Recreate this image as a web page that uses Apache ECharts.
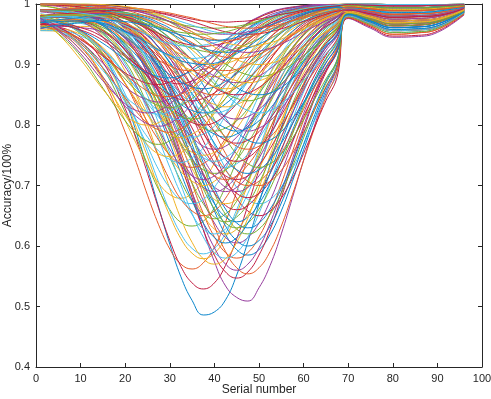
<!DOCTYPE html>
<html>
<head>
<meta charset="utf-8">
<script src="https://cdn.jsdelivr.net/npm/echarts@6/dist/echarts.min.js"></script>
<style>
  html, body { margin: 0; padding: 0; background: #fff; }
  #chart { width: 491px; height: 399px; }
</style>
</head>
<body>
<div id="chart"></div>
<script>
var serialNo = [1, 5, 10, 15, 20, 22.5, 25, 27.5, 30, 32.5, 35, 37.5, 40, 42.5, 45, 47.5, 50,
                52.5, 55, 57.5, 60, 62.5, 65, 67.5, 70, 75, 80, 85, 90, 96];

// deepest dips
var deepCurves = [
  [0.976,0.973,0.957,0.917,0.84,0.788,0.728,0.664,0.603,0.549,0.51,0.486,0.491,0.511,0.552,0.607,0.67,0.735,0.796,0.849,0.894,0.928,0.953,0.971,0.993,0.988,0.983,0.984,0.986,0.995],
  [0.962,0.955,0.929,0.876,0.788,0.738,0.684,0.635,0.595,0.57,0.562,0.572,0.598,0.64,0.69,0.746,0.799,0.849,0.891,0.925,0.95,0.968,0.981,0.989,0.998,0.996,0.994,0.994,0.995,0.998],
  [0.956,0.955,0.942,0.908,0.841,0.796,0.747,0.696,0.65,0.612,0.588,0.579,0.588,0.614,0.654,0.702,0.755,0.807,0.855,0.895,0.928,0.952,0.97,0.981,0.988,0.98,0.972,0.973,0.976,0.991],
  [0.99,0.99,0.988,0.979,0.953,0.929,0.898,0.856,0.806,0.748,0.687,0.627,0.574,0.534,0.515,0.509,0.531,0.568,0.62,0.68,0.742,0.8,0.852,0.895,0.976,0.96,0.945,0.946,0.953,0.982],
  [0.963,0.958,0.937,0.894,0.821,0.779,0.735,0.693,0.66,0.639,0.633,0.641,0.663,0.698,0.741,0.787,0.832,0.873,0.909,0.937,0.958,0.974,0.984,0.99,1,1,0.999,0.999,0.999,1],
  [0.976,0.972,0.956,0.919,0.851,0.806,0.756,0.705,0.658,0.62,0.596,0.587,0.596,0.621,0.66,0.708,0.76,0.811,0.858,0.897,0.929,0.953,0.97,0.982,0.995,0.992,0.989,0.989,0.991,0.996],
  [0.965,0.962,0.945,0.904,0.827,0.776,0.72,0.662,0.609,0.566,0.539,0.529,0.539,0.568,0.612,0.667,0.726,0.784,0.838,0.883,0.919,0.946,0.966,0.979,0.99,0.984,0.978,0.979,0.981,0.993],
  [0.98,0.982,0.983,0.979,0.963,0.948,0.925,0.894,0.855,0.809,0.759,0.707,0.658,0.619,0.594,0.585,0.594,0.619,0.658,0.707,0.759,0.81,0.857,0.897,0.98,0.968,0.956,0.957,0.962,0.986],
  [0.99,0.989,0.987,0.977,0.948,0.925,0.893,0.853,0.807,0.755,0.703,0.654,0.615,0.589,0.58,0.589,0.615,0.654,0.703,0.756,0.808,0.855,0.895,0.928,0.985,0.976,0.967,0.968,0.972,0.989],
  [0.999,0.997,0.99,0.973,0.935,0.905,0.869,0.826,0.779,0.731,0.687,0.652,0.628,0.62,0.628,0.652,0.687,0.731,0.779,0.826,0.869,0.905,0.935,0.957,0.989,0.982,0.975,0.976,0.979,0.992],
  [0.97,0.972,0.973,0.968,0.944,0.924,0.896,0.859,0.816,0.769,0.721,0.675,0.638,0.614,0.605,0.614,0.638,0.675,0.721,0.771,0.819,0.864,0.902,0.932,0.986,0.978,0.969,0.97,0.974,0.99],
  [0.978,0.978,0.97,0.95,0.905,0.873,0.833,0.791,0.747,0.707,0.674,0.653,0.645,0.653,0.674,0.708,0.749,0.794,0.837,0.878,0.912,0.939,0.96,0.974,0.994,0.99,0.986,0.986,0.988,0.995],
  [1,1,0.999,0.995,0.985,0.976,0.962,0.943,0.918,0.886,0.849,0.808,0.767,0.728,0.697,0.677,0.67,0.677,0.697,0.728,0.767,0.808,0.849,0.886,0.979,0.966,0.953,0.954,0.96,0.985],
  [0.99,0.989,0.987,0.975,0.944,0.919,0.885,0.842,0.792,0.736,0.68,0.627,0.585,0.557,0.547,0.557,0.585,0.627,0.68,0.737,0.793,0.844,0.887,0.922,0.983,0.972,0.961,0.962,0.967,0.987],
  [0.99,0.99,0.99,0.985,0.967,0.951,0.929,0.898,0.861,0.816,0.768,0.717,0.671,0.633,0.609,0.6,0.609,0.633,0.671,0.717,0.768,0.817,0.862,0.9,0.981,0.97,0.958,0.959,0.964,0.986],
  [0.99,0.99,0.989,0.983,0.964,0.946,0.921,0.887,0.845,0.795,0.741,0.685,0.633,0.591,0.564,0.554,0.564,0.591,0.633,0.685,0.741,0.796,0.846,0.889,0.978,0.964,0.95,0.952,0.958,0.984],
  [0.97,0.96,0.931,0.88,0.807,0.769,0.733,0.704,0.685,0.679,0.687,0.707,0.737,0.774,0.814,0.853,0.89,0.92,0.945,0.964,0.977,0.986,0.992,0.996,0.997,0.994,0.991,0.991,0.993,0.997]
];

// the crowded block around 0.55 - 0.7, x 40 - 50
var crowdCurves = [
  [0.98,0.981,0.98,0.971,0.943,0.919,0.886,0.845,0.796,0.743,0.689,0.638,0.597,0.57,0.56,0.57,0.597,0.638,0.689,0.744,0.798,0.848,0.89,0.924,0.984,0.974,0.964,0.965,0.97,0.988],
  [0.99,0.99,0.99,0.985,0.969,0.954,0.933,0.903,0.868,0.825,0.779,0.731,0.687,0.652,0.628,0.62,0.628,0.652,0.687,0.731,0.779,0.826,0.869,0.905,0.98,0.968,0.956,0.957,0.962,0.986],
  [0.969,0.971,0.968,0.955,0.917,0.887,0.849,0.803,0.753,0.701,0.654,0.615,0.589,0.58,0.589,0.615,0.654,0.703,0.756,0.808,0.855,0.895,0.928,0.952,0.993,0.988,0.983,0.984,0.986,0.995],
  [0.98,0.983,0.985,0.985,0.978,0.97,0.956,0.937,0.911,0.878,0.84,0.797,0.753,0.712,0.679,0.658,0.65,0.658,0.679,0.712,0.753,0.797,0.84,0.879,0.977,0.962,0.947,0.948,0.955,0.983],
  [1,0.999,0.995,0.984,0.959,0.938,0.91,0.876,0.835,0.791,0.745,0.704,0.67,0.648,0.64,0.648,0.67,0.704,0.745,0.791,0.835,0.876,0.91,0.938,0.99,0.984,0.978,0.979,0.981,0.993],
  [0.97,0.973,0.977,0.977,0.967,0.958,0.942,0.92,0.893,0.861,0.826,0.788,0.753,0.725,0.707,0.7,0.707,0.725,0.753,0.788,0.826,0.863,0.896,0.925,0.985,0.976,0.967,0.968,0.972,0.989],
  [0.988,0.985,0.974,0.946,0.889,0.849,0.801,0.748,0.695,0.645,0.606,0.579,0.57,0.579,0.606,0.646,0.696,0.75,0.803,0.852,0.893,0.926,0.951,0.969,0.995,0.992,0.989,0.989,0.991,0.996],
  [0.989,0.989,0.985,0.973,0.943,0.92,0.891,0.856,0.819,0.78,0.745,0.716,0.697,0.69,0.697,0.716,0.745,0.781,0.82,0.858,0.893,0.923,0.947,0.965,0.988,0.98,0.972,0.973,0.976,0.991]
];

// dips down to about 0.6 - 0.7
var lowCurves = [
  [0.979,0.98,0.977,0.964,0.931,0.905,0.872,0.832,0.789,0.744,0.704,0.67,0.648,0.64,0.648,0.67,0.704,0.745,0.791,0.835,0.876,0.91,0.938,0.959,0.991,0.986,0.98,0.981,0.983,0.994],
  [0.988,0.986,0.976,0.952,0.901,0.866,0.824,0.777,0.73,0.686,0.652,0.628,0.62,0.628,0.652,0.687,0.731,0.779,0.826,0.869,0.905,0.935,0.957,0.973,0.995,0.992,0.989,0.989,0.991,0.996],
  [1,0.999,0.995,0.985,0.961,0.942,0.915,0.883,0.844,0.802,0.76,0.72,0.688,0.667,0.66,0.667,0.688,0.72,0.76,0.802,0.844,0.883,0.915,0.942,0.984,0.974,0.964,0.965,0.97,0.988],
  [0.98,0.982,0.983,0.98,0.966,0.953,0.932,0.905,0.87,0.83,0.785,0.738,0.695,0.661,0.638,0.63,0.638,0.661,0.695,0.738,0.785,0.831,0.872,0.908,0.983,0.972,0.961,0.962,0.967,0.987],
  [0.966,0.965,0.954,0.925,0.868,0.832,0.791,0.748,0.709,0.677,0.658,0.65,0.658,0.679,0.712,0.753,0.797,0.84,0.879,0.913,0.94,0.96,0.975,0.985,0.998,0.996,0.994,0.994,0.995,0.998],
  [0.959,0.963,0.963,0.956,0.929,0.907,0.878,0.843,0.804,0.765,0.728,0.697,0.677,0.67,0.677,0.697,0.728,0.767,0.808,0.849,0.886,0.918,0.943,0.962,0.99,0.984,0.978,0.979,0.981,0.993],
  [0.998,0.996,0.986,0.965,0.923,0.893,0.858,0.82,0.781,0.745,0.716,0.697,0.69,0.697,0.716,0.745,0.781,0.82,0.858,0.893,0.923,0.947,0.965,0.978,0.994,0.99,0.986,0.986,0.988,0.995],
  [0.98,0.982,0.981,0.974,0.951,0.931,0.904,0.869,0.829,0.784,0.738,0.695,0.661,0.638,0.63,0.638,0.661,0.695,0.738,0.785,0.831,0.872,0.908,0.936,0.988,0.98,0.972,0.973,0.976,0.991],
  [0.984,0.976,0.955,0.913,0.845,0.805,0.765,0.726,0.696,0.676,0.67,0.677,0.697,0.728,0.767,0.808,0.849,0.886,0.918,0.943,0.962,0.976,0.985,0.991,0.999,0.998,0.997,0.997,0.998,0.999],
  [0.97,0.973,0.976,0.977,0.966,0.956,0.939,0.915,0.887,0.851,0.814,0.774,0.737,0.707,0.687,0.68,0.687,0.707,0.737,0.774,0.814,0.853,0.89,0.92,0.98,0.968,0.956,0.957,0.962,0.986],
  [0.989,0.988,0.983,0.967,0.928,0.899,0.862,0.817,0.77,0.72,0.675,0.638,0.614,0.605,0.614,0.638,0.675,0.721,0.771,0.819,0.864,0.902,0.932,0.955,0.993,0.988,0.983,0.984,0.986,0.995],
  [0.98,0.983,0.985,0.986,0.98,0.973,0.962,0.945,0.923,0.895,0.863,0.826,0.788,0.753,0.725,0.707,0.7,0.707,0.725,0.753,0.788,0.826,0.863,0.896,0.978,0.964,0.95,0.952,0.958,0.984],
  [0.957,0.958,0.95,0.928,0.882,0.852,0.818,0.782,0.749,0.723,0.707,0.7,0.707,0.725,0.753,0.788,0.826,0.863,0.896,0.925,0.948,0.966,0.978,0.987,0.997,0.994,0.991,0.991,0.993,0.997],
  [0.99,0.99,0.989,0.981,0.961,0.944,0.921,0.891,0.857,0.819,0.781,0.745,0.716,0.697,0.69,0.697,0.716,0.745,0.781,0.82,0.858,0.893,0.923,0.947,0.985,0.976,0.967,0.968,0.972,0.989]
];

// dips down to about 0.7 - 0.8
var midCurves = [
  [0.979,0.979,0.974,0.958,0.923,0.898,0.868,0.834,0.8,0.769,0.743,0.726,0.72,0.726,0.743,0.77,0.802,0.837,0.872,0.903,0.93,0.952,0.968,0.98,0.995,0.992,0.989,0.989,0.991,0.996],
  [0.999,0.998,0.993,0.981,0.954,0.933,0.907,0.876,0.843,0.809,0.778,0.752,0.736,0.73,0.736,0.752,0.778,0.809,0.843,0.876,0.907,0.933,0.954,0.969,0.989,0.982,0.975,0.976,0.979,0.992],
  [0.97,0.973,0.975,0.972,0.956,0.942,0.922,0.895,0.864,0.83,0.795,0.761,0.734,0.716,0.71,0.716,0.734,0.761,0.795,0.832,0.867,0.9,0.928,0.95,0.986,0.978,0.969,0.97,0.974,0.99],
  [0.99,0.99,0.991,0.988,0.976,0.965,0.95,0.928,0.902,0.871,0.837,0.802,0.77,0.743,0.726,0.72,0.726,0.743,0.77,0.802,0.837,0.872,0.903,0.93,0.981,0.97,0.958,0.959,0.964,0.986],
  [0.975,0.971,0.955,0.923,0.869,0.838,0.805,0.775,0.75,0.735,0.73,0.736,0.752,0.778,0.809,0.843,0.876,0.907,0.933,0.954,0.969,0.981,0.988,0.993,0.998,0.996,0.994,0.994,0.995,0.998],
  [0.997,0.993,0.982,0.957,0.914,0.885,0.855,0.823,0.794,0.771,0.755,0.75,0.755,0.771,0.794,0.823,0.855,0.885,0.914,0.938,0.957,0.971,0.982,0.989,0.994,0.99,0.986,0.986,0.988,0.995],
  [0.959,0.963,0.961,0.953,0.926,0.906,0.882,0.855,0.826,0.8,0.78,0.765,0.76,0.765,0.78,0.802,0.83,0.861,0.89,0.917,0.94,0.959,0.973,0.983,0.993,0.988,0.983,0.984,0.986,0.995],
  [0.98,0.983,0.985,0.986,0.981,0.976,0.965,0.951,0.931,0.906,0.876,0.843,0.809,0.778,0.752,0.736,0.73,0.736,0.752,0.778,0.809,0.843,0.876,0.907,0.979,0.966,0.953,0.954,0.96,0.985],
  [0.962,0.955,0.934,0.895,0.838,0.808,0.78,0.757,0.743,0.738,0.746,0.762,0.786,0.816,0.849,0.881,0.91,0.935,0.955,0.97,0.981,0.989,0.993,0.996,1,1,0.999,0.999,0.999,1],
  [0.99,0.99,0.99,0.985,0.97,0.957,0.941,0.919,0.894,0.865,0.837,0.811,0.789,0.775,0.77,0.775,0.789,0.811,0.837,0.866,0.895,0.921,0.943,0.96,0.984,0.974,0.964,0.965,0.97,0.988],
  [0.979,0.981,0.98,0.974,0.955,0.94,0.92,0.896,0.87,0.843,0.819,0.798,0.785,0.78,0.785,0.798,0.819,0.844,0.872,0.899,0.924,0.945,0.962,0.975,0.991,0.986,0.98,0.981,0.983,0.994],
  [1,1,0.998,0.994,0.983,0.973,0.959,0.94,0.917,0.89,0.861,0.83,0.802,0.78,0.765,0.76,0.765,0.78,0.802,0.83,0.861,0.89,0.917,0.94,0.98,0.968,0.956,0.957,0.962,0.986],
  [0.966,0.954,0.924,0.875,0.816,0.789,0.767,0.752,0.748,0.754,0.771,0.794,0.823,0.855,0.885,0.914,0.938,0.957,0.971,0.982,0.989,0.993,0.996,0.998,0.999,0.998,0.997,0.997,0.998,0.999],
  [0.987,0.983,0.972,0.945,0.896,0.864,0.83,0.793,0.76,0.733,0.716,0.71,0.716,0.734,0.761,0.795,0.832,0.867,0.9,0.928,0.95,0.967,0.979,0.987,0.99,0.984,0.978,0.979,0.981,0.993],
  [0.969,0.971,0.97,0.961,0.937,0.92,0.898,0.873,0.849,0.825,0.807,0.795,0.79,0.795,0.807,0.827,0.852,0.878,0.904,0.928,0.948,0.964,0.976,0.985,0.995,0.992,0.989,0.989,0.991,0.996],
  [0.956,0.956,0.947,0.925,0.885,0.861,0.836,0.813,0.794,0.783,0.78,0.785,0.798,0.819,0.844,0.872,0.899,0.924,0.945,0.962,0.975,0.984,0.99,0.994,0.997,0.994,0.991,0.991,0.993,0.997],
  [0.98,0.982,0.982,0.979,0.963,0.95,0.931,0.907,0.879,0.848,0.816,0.786,0.762,0.746,0.74,0.746,0.762,0.786,0.816,0.849,0.881,0.91,0.935,0.955,0.988,0.98,0.972,0.973,0.976,0.991],
  [0.99,0.991,0.992,0.992,0.986,0.98,0.972,0.958,0.942,0.92,0.895,0.866,0.837,0.811,0.789,0.775,0.77,0.775,0.789,0.811,0.837,0.866,0.895,0.921,0.983,0.972,0.961,0.962,0.967,0.987],
  [0.969,0.972,0.971,0.964,0.939,0.92,0.894,0.862,0.829,0.793,0.761,0.734,0.716,0.71,0.716,0.734,0.761,0.795,0.832,0.867,0.9,0.928,0.95,0.967,0.989,0.982,0.975,0.976,0.979,0.992],
  [0.983,0.975,0.955,0.919,0.868,0.841,0.817,0.796,0.784,0.779,0.785,0.798,0.819,0.844,0.872,0.899,0.924,0.945,0.962,0.975,0.984,0.99,0.994,0.997,0.998,0.996,0.994,0.994,0.995,0.998],
  [0.98,0.983,0.984,0.985,0.978,0.971,0.96,0.945,0.926,0.903,0.878,0.852,0.827,0.807,0.795,0.79,0.795,0.807,0.827,0.852,0.878,0.904,0.928,0.948,0.985,0.976,0.967,0.968,0.972,0.989],
  [0.97,0.951,0.914,0.861,0.807,0.786,0.773,0.768,0.774,0.788,0.811,0.837,0.866,0.895,0.921,0.943,0.96,0.974,0.983,0.99,0.994,0.997,0.998,0.999,1,1,0.999,0.999,0.999,1],
  [0.989,0.987,0.982,0.965,0.931,0.907,0.879,0.847,0.815,0.785,0.762,0.746,0.74,0.746,0.762,0.786,0.816,0.849,0.881,0.91,0.935,0.955,0.97,0.981,0.993,0.988,0.983,0.984,0.986,0.995],
  [0.978,0.978,0.972,0.956,0.924,0.903,0.88,0.856,0.833,0.816,0.804,0.8,0.804,0.817,0.835,0.859,0.884,0.908,0.931,0.95,0.966,0.977,0.986,0.991,0.994,0.99,0.986,0.986,0.988,0.995],
  [1,0.999,0.997,0.991,0.976,0.964,0.948,0.928,0.904,0.878,0.852,0.827,0.807,0.795,0.79,0.795,0.807,0.827,0.852,0.878,0.904,0.928,0.948,0.964,0.986,0.978,0.969,0.97,0.974,0.99],
  [0.969,0.959,0.934,0.894,0.845,0.822,0.803,0.792,0.788,0.794,0.807,0.827,0.852,0.878,0.904,0.928,0.948,0.964,0.976,0.985,0.991,0.995,0.997,0.998,0.999,0.998,0.997,0.997,0.998,0.999]
];

// dips down to about 0.8 - 0.9
var upperCurves = [
  [0.973,0.95,0.908,0.859,0.817,0.804,0.8,0.804,0.817,0.835,0.859,0.884,0.908,0.931,0.95,0.966,0.977,0.986,0.991,0.995,0.997,0.998,0.999,1,1,1,0.999,0.999,0.999,1],
  [0.976,0.963,0.938,0.902,0.864,0.85,0.842,0.838,0.843,0.852,0.868,0.887,0.907,0.927,0.945,0.96,0.972,0.982,0.988,0.993,0.996,0.998,0.999,0.998,0.998,0.996,0.994,0.994,0.995,0.998],
  [0.981,0.972,0.951,0.917,0.876,0.857,0.842,0.832,0.829,0.833,0.844,0.86,0.88,0.901,0.922,0.941,0.958,0.971,0.981,0.988,0.993,0.996,0.998,0.999,0.999,0.998,0.997,0.997,0.998,0.999],
  [0.974,0.969,0.953,0.924,0.883,0.861,0.84,0.823,0.812,0.809,0.814,0.826,0.844,0.866,0.89,0.913,0.934,0.953,0.967,0.978,0.986,0.992,0.995,0.997,0.997,0.994,0.991,0.991,0.993,0.997],
  [0.967,0.967,0.961,0.945,0.916,0.899,0.881,0.863,0.85,0.842,0.84,0.844,0.853,0.868,0.887,0.907,0.927,0.945,0.96,0.972,0.982,0.988,0.993,0.995,0.995,0.992,0.989,0.989,0.991,0.996],
  [0.988,0.986,0.98,0.964,0.934,0.915,0.893,0.871,0.851,0.834,0.824,0.82,0.824,0.835,0.852,0.873,0.895,0.918,0.938,0.955,0.969,0.979,0.987,0.992,0.994,0.99,0.986,0.986,0.988,0.995],
  [0.999,0.998,0.993,0.983,0.963,0.948,0.931,0.913,0.894,0.877,0.862,0.853,0.85,0.853,0.862,0.877,0.894,0.913,0.931,0.948,0.963,0.974,0.983,0.989,0.993,0.988,0.983,0.984,0.986,0.995],
  [0.98,0.982,0.982,0.978,0.964,0.953,0.937,0.919,0.899,0.879,0.86,0.844,0.834,0.83,0.834,0.844,0.86,0.88,0.901,0.922,0.941,0.958,0.971,0.981,0.99,0.984,0.978,0.979,0.981,0.993],
  [0.97,0.973,0.976,0.977,0.967,0.959,0.947,0.929,0.91,0.888,0.866,0.844,0.826,0.814,0.81,0.814,0.826,0.844,0.866,0.89,0.913,0.934,0.953,0.967,0.988,0.98,0.972,0.973,0.976,0.991],
  [0.99,0.991,0.992,0.991,0.984,0.979,0.97,0.958,0.944,0.926,0.907,0.887,0.868,0.853,0.844,0.84,0.844,0.853,0.868,0.887,0.907,0.927,0.945,0.96,0.985,0.976,0.967,0.968,0.972,0.989],
  [0.98,0.983,0.985,0.987,0.985,0.982,0.975,0.966,0.953,0.937,0.918,0.895,0.873,0.852,0.835,0.824,0.82,0.824,0.835,0.852,0.873,0.895,0.918,0.938,0.98,0.968,0.956,0.957,0.962,0.986],
  [0.969,0.961,0.941,0.914,0.886,0.876,0.869,0.867,0.871,0.88,0.893,0.908,0.924,0.94,0.955,0.968,0.978,0.985,0.991,0.994,0.997,0.998,0.999,0.999,1,1,0.999,0.999,0.999,1],
  [0.974,0.969,0.956,0.935,0.908,0.896,0.886,0.88,0.878,0.882,0.89,0.901,0.915,0.93,0.945,0.959,0.97,0.979,0.986,0.991,0.995,0.997,0.998,0.998,0.998,0.996,0.994,0.994,0.995,0.998],
  [0.988,0.986,0.98,0.968,0.946,0.933,0.92,0.907,0.898,0.891,0.89,0.892,0.899,0.909,0.922,0.936,0.95,0.962,0.973,0.981,0.987,0.992,0.995,0.997,0.999,0.998,0.997,0.997,0.998,0.999],
  [0.969,0.972,0.974,0.971,0.959,0.951,0.939,0.925,0.912,0.899,0.89,0.883,0.88,0.883,0.89,0.901,0.915,0.93,0.945,0.959,0.97,0.979,0.986,0.991,0.995,0.992,0.989,0.989,0.991,0.996],
  [0.98,0.982,0.984,0.984,0.978,0.973,0.964,0.952,0.938,0.923,0.908,0.893,0.881,0.873,0.87,0.873,0.881,0.893,0.908,0.924,0.94,0.955,0.968,0.978,0.989,0.982,0.975,0.976,0.979,0.992],
  [1,1,1,0.998,0.995,0.991,0.986,0.979,0.97,0.959,0.945,0.93,0.915,0.901,0.89,0.883,0.88,0.883,0.89,0.901,0.915,0.93,0.945,0.959,0.984,0.974,0.964,0.965,0.97,0.988],
  [0.974,0.96,0.931,0.89,0.848,0.832,0.822,0.818,0.823,0.834,0.852,0.873,0.895,0.918,0.938,0.955,0.969,0.979,0.987,0.992,0.995,0.997,0.999,0.999,1,1,0.999,0.999,0.999,1],
  [0.966,0.965,0.957,0.94,0.913,0.9,0.887,0.876,0.87,0.868,0.873,0.881,0.893,0.908,0.924,0.94,0.955,0.968,0.978,0.985,0.991,0.994,0.997,0.997,0.997,0.994,0.991,0.991,0.993,0.997],
  [0.979,0.979,0.976,0.966,0.945,0.931,0.915,0.898,0.883,0.871,0.863,0.86,0.863,0.872,0.885,0.901,0.919,0.936,0.952,0.965,0.976,0.984,0.99,0.991,0.991,0.986,0.98,0.981,0.983,0.994],
  [0.99,0.99,0.99,0.987,0.977,0.97,0.96,0.948,0.935,0.921,0.909,0.899,0.892,0.89,0.892,0.899,0.909,0.922,0.936,0.95,0.962,0.973,0.981,0.987,0.993,0.988,0.983,0.984,0.986,0.995],
  [0.97,0.974,0.978,0.982,0.98,0.977,0.972,0.963,0.952,0.938,0.924,0.908,0.893,0.881,0.873,0.87,0.873,0.881,0.893,0.908,0.924,0.94,0.955,0.968,0.986,0.978,0.969,0.97,0.974,0.99],
  [0.976,0.955,0.918,0.873,0.835,0.824,0.82,0.824,0.835,0.852,0.873,0.895,0.918,0.938,0.955,0.969,0.979,0.987,0.992,0.995,0.997,0.999,0.999,0.999,0.999,0.998,0.997,0.997,0.998,0.999],
  [0.997,0.992,0.978,0.953,0.913,0.89,0.866,0.844,0.826,0.814,0.81,0.814,0.826,0.844,0.866,0.89,0.913,0.934,0.953,0.967,0.978,0.986,0.992,0.995,0.998,0.996,0.994,0.994,0.995,0.998],
  [0.979,0.98,0.978,0.969,0.948,0.933,0.914,0.892,0.871,0.851,0.835,0.824,0.82,0.824,0.835,0.852,0.873,0.895,0.918,0.938,0.955,0.969,0.979,0.987,0.994,0.99,0.986,0.986,0.988,0.995],
  [0.99,0.99,0.991,0.988,0.979,0.971,0.961,0.946,0.93,0.912,0.894,0.877,0.862,0.853,0.85,0.853,0.862,0.877,0.894,0.913,0.931,0.948,0.963,0.974,0.99,0.984,0.978,0.979,0.981,0.993],
  [0.97,0.974,0.978,0.983,0.982,0.981,0.977,0.969,0.96,0.946,0.931,0.913,0.894,0.877,0.862,0.853,0.85,0.853,0.862,0.877,0.894,0.913,0.931,0.948,0.983,0.972,0.961,0.962,0.967,0.987],
  [0.962,0.957,0.942,0.916,0.883,0.869,0.856,0.848,0.847,0.851,0.862,0.877,0.894,0.913,0.931,0.948,0.963,0.974,0.983,0.989,0.993,0.996,0.998,0.999,1,1,0.999,0.999,0.999,1],
  [1,0.999,0.996,0.99,0.976,0.965,0.952,0.936,0.919,0.901,0.885,0.872,0.863,0.86,0.863,0.872,0.885,0.901,0.919,0.936,0.952,0.965,0.976,0.984,0.991,0.986,0.98,0.981,0.983,0.994],
  [0.973,0.957,0.924,0.879,0.831,0.814,0.802,0.798,0.803,0.816,0.835,0.859,0.884,0.908,0.931,0.95,0.966,0.977,0.986,0.991,0.995,0.997,0.998,0.999,0.999,0.998,0.997,0.997,0.998,0.999]
];

// shallow dips near the top (min above 0.9)
var topCurves = [
  [0.99,0.99,0.989,0.986,0.976,0.969,0.961,0.952,0.942,0.933,0.927,0.922,0.92,0.922,0.927,0.934,0.943,0.954,0.963,0.972,0.98,0.986,0.991,0.994,0.998,0.996,0.994,0.994,0.995,0.998],
  [0.978,0.979,0.976,0.968,0.952,0.943,0.932,0.923,0.915,0.911,0.91,0.912,0.917,0.926,0.936,0.948,0.959,0.969,0.978,0.985,0.99,0.994,0.996,0.998,1,1,0.999,0.999,0.999,1],
  [0.999,0.998,0.995,0.988,0.976,0.968,0.959,0.951,0.942,0.936,0.932,0.93,0.932,0.936,0.942,0.951,0.959,0.968,0.976,0.983,0.988,0.992,0.995,0.997,0.997,0.994,0.991,0.991,0.993,0.997],
  [0.99,0.99,0.991,0.989,0.982,0.977,0.97,0.961,0.953,0.942,0.934,0.927,0.922,0.92,0.922,0.927,0.934,0.943,0.954,0.963,0.972,0.98,0.986,0.991,0.995,0.992,0.989,0.989,0.991,0.996],
  [0.98,0.983,0.985,0.986,0.983,0.98,0.974,0.966,0.957,0.947,0.936,0.926,0.917,0.912,0.91,0.912,0.917,0.926,0.936,0.948,0.959,0.969,0.978,0.985,0.993,0.988,0.983,0.984,0.986,0.995],
  [0.99,0.991,0.992,0.993,0.991,0.989,0.986,0.981,0.975,0.967,0.959,0.951,0.942,0.936,0.932,0.93,0.932,0.936,0.942,0.951,0.959,0.968,0.976,0.983,0.988,0.98,0.972,0.973,0.976,0.991],
  [1,1,0.999,0.996,0.991,0.988,0.983,0.977,0.971,0.965,0.959,0.954,0.951,0.95,0.951,0.954,0.959,0.965,0.971,0.977,0.983,0.988,0.991,0.994,0.998,0.996,0.994,0.994,0.995,0.998],
  [0.99,0.99,0.991,0.99,0.986,0.983,0.98,0.975,0.971,0.966,0.963,0.961,0.96,0.961,0.963,0.967,0.972,0.977,0.982,0.986,0.99,0.993,0.995,0.997,0.997,0.994,0.991,0.991,0.993,0.997],
  [1,1,0.999,0.998,0.994,0.991,0.988,0.983,0.977,0.971,0.965,0.959,0.954,0.951,0.95,0.951,0.954,0.959,0.965,0.971,0.977,0.983,0.988,0.991,0.994,0.99,0.986,0.986,0.988,0.995],
  [0.98,0.983,0.986,0.989,0.989,0.989,0.987,0.985,0.981,0.976,0.971,0.965,0.959,0.954,0.951,0.95,0.951,0.954,0.959,0.965,0.971,0.977,0.983,0.988,0.99,0.984,0.978,0.979,0.981,0.993],
  [0.969,0.971,0.972,0.968,0.954,0.946,0.936,0.924,0.915,0.906,0.902,0.9,0.902,0.908,0.918,0.929,0.942,0.954,0.965,0.975,0.983,0.989,0.993,0.996,0.998,0.996,0.994,0.994,0.995,0.998],
  [1,1,0.998,0.996,0.99,0.985,0.979,0.973,0.965,0.958,0.951,0.945,0.941,0.94,0.941,0.945,0.951,0.958,0.965,0.973,0.979,0.985,0.99,0.993,0.995,0.992,0.989,0.989,0.991,0.996],
  [0.979,0.982,0.982,0.979,0.968,0.96,0.95,0.939,0.927,0.917,0.908,0.902,0.9,0.902,0.908,0.918,0.929,0.942,0.954,0.965,0.975,0.983,0.989,0.993,0.997,0.994,0.991,0.991,0.993,0.997],
  [0.99,0.991,0.992,0.993,0.99,0.988,0.984,0.978,0.971,0.962,0.954,0.943,0.934,0.927,0.922,0.92,0.922,0.927,0.934,0.943,0.954,0.963,0.972,0.98,0.991,0.986,0.98,0.981,0.983,0.994],
  [0.979,0.982,0.982,0.981,0.976,0.972,0.967,0.962,0.957,0.953,0.951,0.95,0.951,0.954,0.959,0.965,0.971,0.977,0.983,0.988,0.991,0.994,0.996,0.998,0.998,0.996,0.994,0.994,0.995,0.998],
  [0.989,0.988,0.985,0.978,0.964,0.956,0.949,0.94,0.935,0.931,0.93,0.932,0.936,0.942,0.951,0.959,0.968,0.976,0.983,0.988,0.992,0.995,0.997,0.998,1,1,0.999,0.999,0.999,1],
  [1,1,0.999,0.998,0.995,0.993,0.99,0.986,0.983,0.979,0.975,0.972,0.971,0.97,0.971,0.972,0.975,0.979,0.983,0.986,0.99,0.993,0.995,0.997,0.999,0.998,0.997,0.997,0.998,0.999],
  [0.96,0.965,0.969,0.973,0.971,0.968,0.965,0.959,0.954,0.949,0.945,0.941,0.94,0.941,0.945,0.951,0.958,0.965,0.973,0.979,0.985,0.99,0.993,0.994,0.994,0.99,0.986,0.986,0.988,0.995],
  [0.99,0.991,0.993,0.994,0.993,0.992,0.991,0.988,0.985,0.981,0.977,0.972,0.967,0.963,0.961,0.96,0.961,0.963,0.967,0.972,0.977,0.982,0.986,0.99,0.995,0.992,0.989,0.989,0.991,0.996],
  [1,1,1,0.999,0.996,0.993,0.989,0.983,0.975,0.965,0.954,0.942,0.929,0.918,0.908,0.902,0.9,0.902,0.908,0.918,0.929,0.942,0.954,0.965,0.986,0.978,0.969,0.97,0.974,0.99]
];

var lineColors = ['#0a86cc', '#e65c28', '#f0b324', '#963c9e', '#74b032', '#4cc2ee', '#c21d42'];
var axisColor = '#262626';
var fontName = 'Liberation Sans, Arial, sans-serif';

var allCurves = [];
var groups = [deepCurves, crowdCurves, lowCurves, midCurves, upperCurves, topCurves];
for (var g = 0; g < groups.length; g++) {
  for (var k = 0; k < groups[g].length; k++) allCurves.push(groups[g][k]);
}

var series = [];
for (var i = 0; i < allCurves.length; i++) {
  var pts = [];
  for (var j = 0; j < serialNo.length; j++) pts.push([serialNo[j], allCurves[i][j]]);
  series.push({
    type: 'line',
    data: pts,
    smooth: 0.45,
    symbol: 'none',
    silent: true,
    lineStyle: { width: 1, color: lineColors[i % lineColors.length] }
  });
}

function makeAxis(pos, isMain, opt) {
  var a = {
    type: 'value',
    position: pos,
    nameMoveOverlap: false,
    axisLine: { show: true, onZero: false, lineStyle: { color: axisColor, width: 1 } },
    axisTick: { show: true, inside: true, length: 4, lineStyle: { color: axisColor } },
    axisLabel: { show: isMain, color: axisColor, fontSize: 11, fontFamily: fontName, margin: 6 },
    splitLine: { show: false }
  };
  for (var key in opt) a[key] = opt[key];
  return a;
}

var chart = echarts.init(document.getElementById('chart'));
chart.setOption({
  animation: false,
  backgroundColor: '#fff',
  grid: { left: 36, right: 9, top: 4, bottom: 32, outerBoundsMode: 'none' },
  xAxis: [
    makeAxis('bottom', true, {
      min: 0, max: 100, interval: 10,
      name: 'Serial number', nameLocation: 'middle', nameGap: 17,
      nameTextStyle: { color: axisColor, fontSize: 12, fontFamily: fontName }
    }),
    makeAxis('top', false, { min: 0, max: 100, interval: 10 })
  ],
  yAxis: [
    makeAxis('left', true, {
      min: 0.4, max: 1, interval: 0.1,
      name: 'Accuracy/100%', nameLocation: 'middle', nameGap: 22,
      nameTextStyle: { color: axisColor, fontSize: 12, fontFamily: fontName }
    }),
    makeAxis('right', false, { min: 0.4, max: 1, interval: 0.1 })
  ],
  series: series
});
</script>
</body>
</html>
